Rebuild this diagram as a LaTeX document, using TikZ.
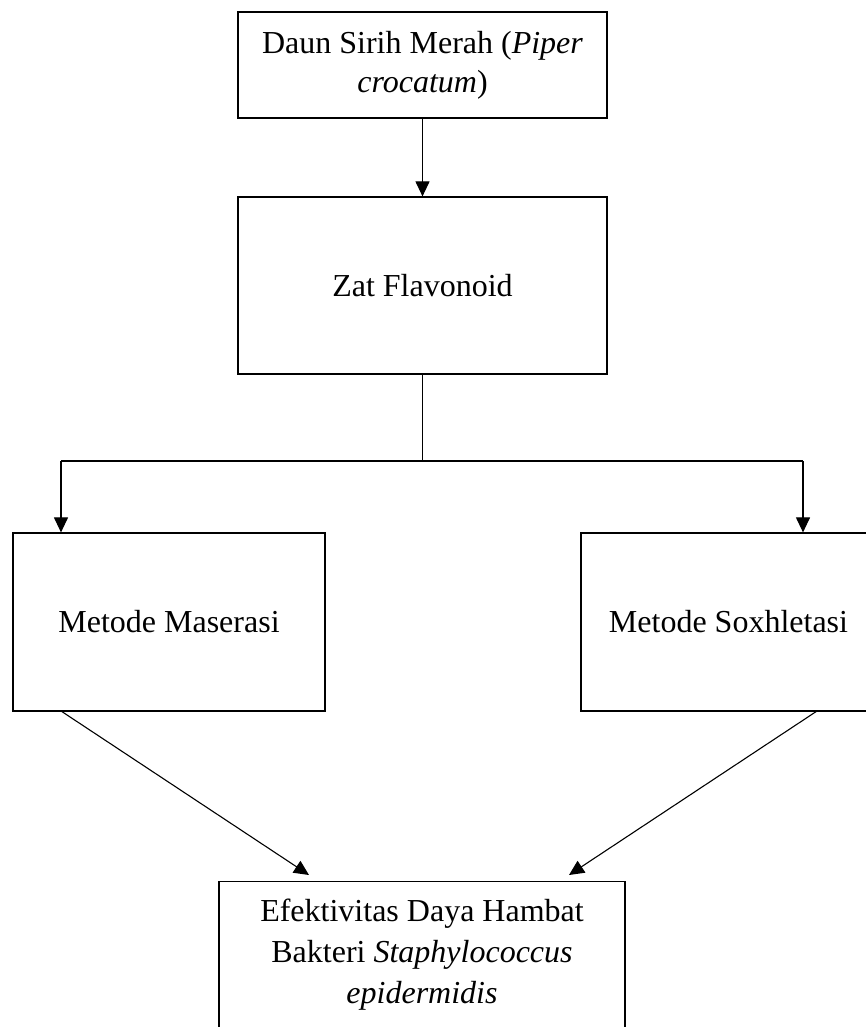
\documentclass[tikz,border=0pt]{standalone}
\usepackage{fontspec}
\setmainfont{Liberation Serif}
\usetikzlibrary{arrows.meta}
\begin{document}
\begin{tikzpicture}[x=1pt,y=-1pt,
  box/.style={draw, line width=1.2pt, inner sep=0pt, align=center,
    font=\fontsize{32}{39}\selectfont},
  txt/.style={inner sep=0pt, align=center, font=\fontsize{32}{41}\selectfont},
  con/.style={line width=1.1pt},
  arr/.style={con, -{Triangle[length=15pt,width=14pt]}}]
\clip (0,0) rectangle (866,1027);
\useasboundingbox (0,0) rectangle (866,1027);
\node[box, minimum width=369pt, minimum height=106pt] (b1) at (422.5,65)
  {Daun Sirih Merah (\textit{Piper}\\\textit{crocatum})};
\node[box, minimum width=369pt, minimum height=177pt] (b2) at (422.5,285.5)
  {Zat Flavonoid};
\node[box, minimum width=312pt, minimum height=178pt] (b3) at (169,622)
  {Metode Maserasi};
\node[box, minimum width=295pt, minimum height=178pt] (b4) at (728.5,622)
  {Metode Soxhletasi};
\node[box, minimum width=406pt, minimum height=200pt, anchor=north] (b5) at (422,881) {};
\node[txt, anchor=north] (b5t) at (422,899)
  {Efektivitas Daya Hambat\\Bakteri \textit{Staphylococcus}\\\textit{epidermidis}};
\coordinate (j) at (b2.south |- 0,461);
\coordinate (jl) at (61,461);
\coordinate (jr) at (803,461);
\coordinate (s3) at (61,711);
\coordinate (s4) at (817,711);
\coordinate (e3) at (309,875);
\coordinate (e4) at (569,875);
\draw[arr] (b1) -- (b2);
\draw[con] (b2.south) -- (j);
\draw[con] (jl) -- (jr);
\draw[arr] (jl) -- (jl |- b3.north);
\draw[arr] (jr) -- (jr |- b4.north);
\draw[arr] (s3) -- (e3);
\draw[arr] (s4) -- (e4);
\end{tikzpicture}
\end{document}
